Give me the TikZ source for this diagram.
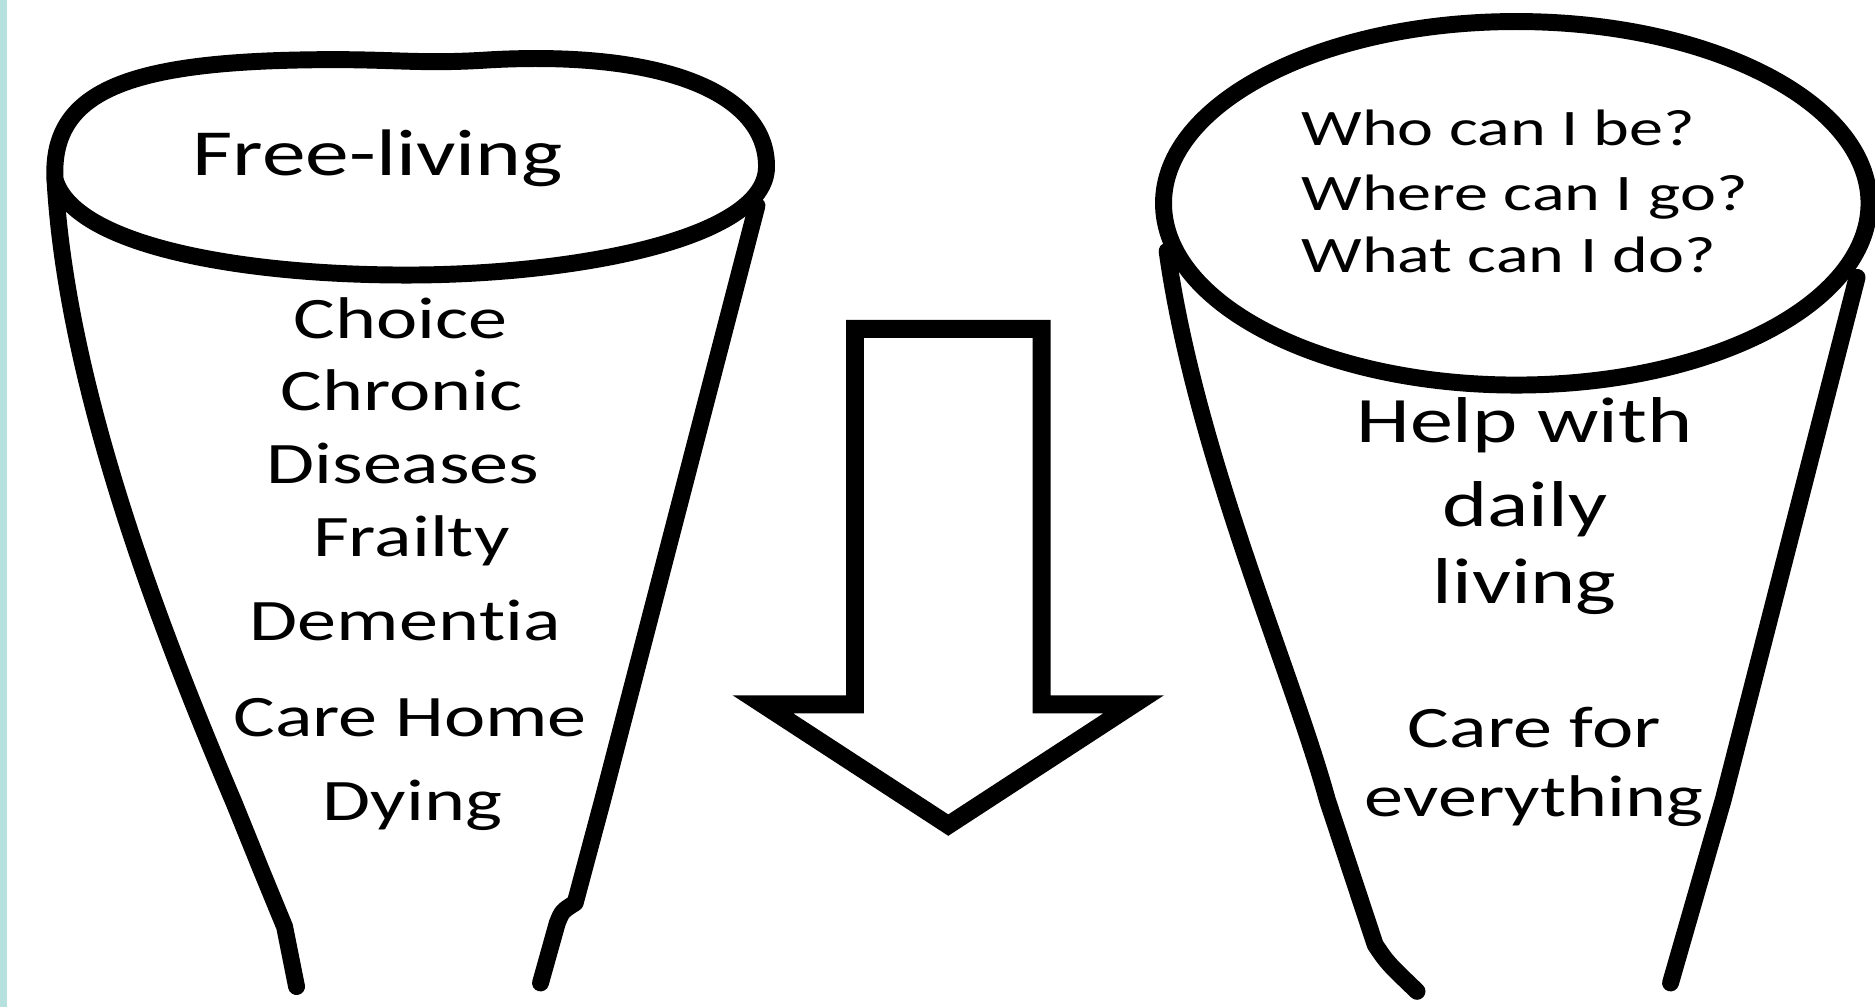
\documentclass[tikz,border=0pt]{standalone}
\usepackage{fontspec}
\setmainfont[Ligatures=NoCommon]{Carlito}
\definecolor{stripe}{HTML}{B7E1DF}
\newcommand{\sx}[1]{\scalebox{1.33}[1]{#1}}
\begin{document}
\begin{tikzpicture}[x=0.6pt,y=-0.6pt,
  outl/.style={line width=8.5pt, line join=round, line cap=round},
  tFree/.style={anchor=base, inner sep=0pt, font=\fontsize{33}{35}\selectfont},
  tList/.style={anchor=base, inner sep=0pt, font=\fontsize{29.5}{31}\selectfont},
  tQ/.style={anchor=base west, inner sep=0pt, font=\fontsize{25.7}{27}\selectfont},
  tHelp/.style={anchor=base, inner sep=0pt, font=\fontsize{32.5}{34}\selectfont},
  tCare/.style={anchor=base, inner sep=0pt, font=\fontsize{29.5}{31}\selectfont}]
\useasboundingbox (0,0) rectangle (1568,842);
\fill[white] (0,0) rectangle (1568,842);
\fill[stripe] (0,0) rectangle (6,842);

% left cone
\draw[outl] (46,150) .. controls (42,75) and (110,52) .. (260,50)
  .. controls (330,49) and (350,54) .. (410,50)
  .. controls (560,42) and (642,80) .. (641,140)
  .. controls (640,200) and (480,230) .. (340,230)
  .. controls (200,230) and (62,205) .. (46,150) -- cycle;
\coordinate (l1a) at (46,150);
\coordinate (l1b) at (248,825);
\draw[outl] (l1a) .. controls (56,330) and (140,540) .. (196,672) -- (213,714) -- (217,724) -- (238,775) -- (l1b);
\coordinate (l2a) at (633,172);
\coordinate (l2b) at (452,822);
\draw[outl] (l2a) -- (504,669) -- (481,755) .. controls (470,762) .. (466,772) -- (l2b);

% arrow
\draw[line width=9pt, line join=miter] (715,275) -- (871,275) -- (871,589) -- (948,589) -- (793,690) -- (638,589) -- (715,589) -- cycle;

% right cone
\draw[outl] (1268,170) ellipse [x radius=295, y radius=152];
\coordinate (r1a) at (976,210);
\coordinate (r1b) at (1185,829);
\draw[outl] (r1a) .. controls (1000,380) and (1080,560) .. (1110,669) -- (1150,790) .. controls (1160,805) .. (r1b);
\coordinate (r2a) at (1553,232);
\coordinate (r2b) at (1397,822);
\draw[outl] (r2a) -- (1441,669) -- (r2b);

% texts
\node[tFree] (free) at (316,147) {\sx{Free-living}};
\node[tList] (choice) at (335,283) {\sx{Choice}};
\node[tList] (chronic) at (336,343) {\sx{Chronic}};
\node[tList] (dis) at (337,404) {\sx{Diseases}};
\node[tList] (frail) at (344,465) {\sx{Frailty}};
\node[tList] (dem) at (339,536) {\sx{Demen\kern0pt tia}};
\node[tList] (care) at (343,616) {\sx{Care Home}};
\node[tList] (dying) at (345,686) {\sx{Dying}};

\node[tQ] (q1) at (1088,122) {\sx{Who can I be?}};
\node[tQ] (q2) at (1088,176) {\sx{Where can I go?}};
\node[tQ] (q3) at (1088,228) {\sx{What can I do?}};

\node[tHelp] (h1) at (1275,370) {\sx{Help with}};
\node[tHelp] (h2) at (1275,440) {\sx{daily}};
\node[tHelp] (h3) at (1275,505) {\sx{living}};
\node[tCare] (c1) at (1283,625) {\sx{Care for}};
\node[tCare] (c2) at (1283,683) {\sx{everything}};
\end{tikzpicture}
\end{document}
